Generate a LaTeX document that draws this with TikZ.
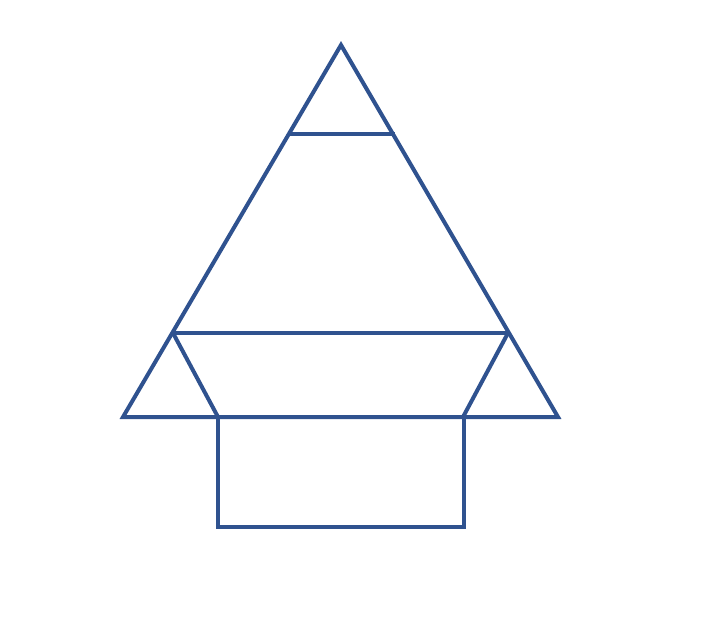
\documentclass[tikz,border=0pt]{standalone}
\definecolor{lineblue}{HTML}{2F528F}
\begin{document}
\begin{tikzpicture}[x=1pt,y=-1pt,shape line/.style={draw=lineblue,line width=4pt}]
\useasboundingbox (0,0) rectangle (717,641);
\coordinate (apex) at (341,45);
\coordinate (bl) at (123,417);
\coordinate (br) at (558,417);
\coordinate (tl) at (290,134);
\coordinate (tr) at (395,134);
\coordinate (ml) at (173,333);
\coordinate (mr) at (508,333);
\coordinate (il) at (218,417);
\coordinate (ir) at (463,417);
\coordinate (rl) at (218,527);
\coordinate (rr) at (464,527);
\coordinate (rtr) at (464,417);
\draw[shape line,line join=miter] (apex) -- (bl) -- (br) -- cycle;
\draw[shape line] (tl) -- (tr);
\draw[shape line] (ml) -- (mr);
\draw[shape line] (ml) -- (il);
\draw[shape line] (mr) -- (ir);
\draw[shape line] (il) -- (rl) -- (rr) -- (rtr);
\end{tikzpicture}
\end{document}
